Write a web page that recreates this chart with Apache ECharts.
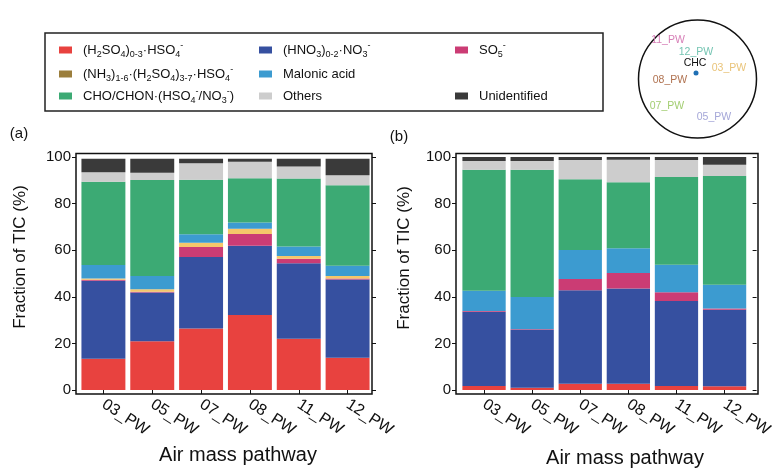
<!DOCTYPE html>
<html>
<head>
<meta charset="utf-8">
<script src="https://cdn.jsdelivr.net/npm/echarts@6/dist/echarts.min.js"></script>
<style>
  html, body { margin: 0; padding: 0; background: #fff; }
  #main { width: 775px; height: 468px; }
</style>
</head>
<body>
<div id="main"></div>
<script>
// air mass pathways
const pathways = ['03_PW', '05_PW', '07_PW', '08_PW', '11_PW', '12_PW'];
const yTicks = [0, 20, 40, 60, 80, 100];

// panel (a) fractions of TIC (%)
const a_h2so4 = [13.4, 20.9, 26.4, 32.2, 22.0, 13.8];
const a_hno3 = [33.5, 20.9, 30.7, 29.7, 32.4, 33.6];
const a_so5 = [0.4, 0.4, 4.3, 5.0, 1.9, 0.5];
const a_nh3 = [0.6, 1.0, 1.8, 2.3, 1.2, 1.0];
const a_malonic = [5.8, 5.7, 3.6, 2.7, 4.1, 4.4];
const a_cho = [35.7, 41.2, 23.4, 19.0, 29.2, 34.6];
const a_others = [4.1, 3.1, 7.1, 7.1, 5.1, 4.3];
const a_unid = [5.7, 6.1, 2.0, 1.3, 3.4, 7.1];

// panel (b) fractions of TIC (%)
const b_h2so4 = [1.7, 1.0, 2.7, 2.7, 1.7, 1.6];
const b_hno3 = [31.9, 24.8, 40.1, 40.9, 36.5, 32.8];
const b_so5 = [0.3, 0.3, 4.8, 6.6, 3.8, 0.6];
const b_nh3 = [0, 0, 0, 0, 0, 0];
const b_malonic = [8.7, 13.8, 12.5, 10.6, 11.8, 10.2];
const b_cho = [51.9, 54.6, 30.3, 28.4, 37.6, 46.6];
const b_others = [3.8, 3.8, 8.3, 9.6, 7.3, 4.9];
const b_unid = [1.7, 1.7, 1.3, 1.2, 1.3, 3.3];

const keys = ['h2so4', 'hno3', 'so5', 'nh3', 'malonic', 'cho', 'others', 'unid'];
const colors = {
    h2so4: '#E8423F', hno3: '#3650A0', so5: '#CB3C74', nh3: '#F5C76A',
    malonic: '#3C9BD0', cho: '#3CAA74', others: '#CDCDCD', unid: '#3A3A3A'
};
const labels = {
    h2so4: '(H{s|2}SO{s|4}){s|0-3}·HSO{s|4}{p|-}',
    hno3: '(HNO{s|3}){s|0-2}·NO{s|3}{p|-}',
    so5: 'SO{s|5}{p|-}',
    nh3: '(NH{s|3}){s|1-6}·(H{s|2}SO{s|4}){s|3-7}·HSO{s|4}{p|-}',
    malonic: 'Malonic acid',
    cho: 'CHO/CHON·(HSO{s|4}{p|-}/NO{s|3}{p|-})',
    others: 'Others',
    unid: 'Unidentified'
};
const panelA = { h2so4: a_h2so4, hno3: a_hno3, so5: a_so5, nh3: a_nh3, malonic: a_malonic, cho: a_cho, others: a_others, unid: a_unid };
const panelB = { h2so4: b_h2so4, hno3: b_hno3, so5: b_so5, nh3: b_nh3, malonic: b_malonic, cho: b_cho, others: b_others, unid: b_unid };

const font = '"Liberation Sans", Arial, sans-serif';

// legend slots: [key, iconLeft, rowCenter]
const legendSlots = [
    ['h2so4', 59, 50], ['hno3', 259, 50], ['so5', 455, 50],
    ['nh3', 59, 74], ['malonic', 259, 74],
    ['cho', 59, 96], ['others', 259, 96], ['unid', 455, 96]
];

var chartDom = document.getElementById('main');
var myChart = echarts.init(chartDom);

const makeSeries = (panel, xi, yi, stack) => keys.map(k => ({
    name: k,
    type: 'bar',
    stack: stack,
    xAxisIndex: xi,
    yAxisIndex: yi,
    barWidth: '90%',
    itemStyle: { color: colors[k] },
    emphasis: { disabled: true },
    data: panel[k]
}));

const xAxisOf = (gi) => ({
    gridIndex: gi,
    type: 'category',
    data: pathways,
    offset: 4,
    axisLine: { show: false },
    axisTick: { show: true, alignWithLabel: true, length: 4, lineStyle: { color: '#111' } },
    axisLabel: { rotate: -33, margin: 9, fontSize: 16, color: '#111', fontFamily: font }
});
const yAxisOf = (gi, pos, off, showLabel) => ({
    gridIndex: gi,
    type: 'value',
    position: pos,
    offset: off,
    min: yTicks[0],
    max: yTicks[yTicks.length - 1],
    interval: 20,
    axisLine: { show: false },
    axisTick: { show: true, length: 4, lineStyle: { color: '#111' } },
    axisLabel: { show: showLabel, margin: 5, fontSize: 15, color: '#111', fontFamily: font },
    splitLine: { show: false }
});

const txt = (text, x, y, size, color, extra) => Object.assign({
    type: 'text', x: x, y: y, z: 10,
    style: { text: text, fontSize: size, fontFamily: font, fill: color, align: 'center', verticalAlign: 'middle', textAlign: 'center', textVerticalAlign: 'middle' }
}, extra || {});

var option = {
    animation: false,
    legend: legendSlots.map(s => ({
        data: [s[0] === 'nh3' ? { name: s[0], itemStyle: { color: '#9B7E3C' } } : s[0]],
        left: s[1],
        top: s[2] - 9,
        padding: 0,
        selectedMode: false,
        icon: 'rect',
        itemWidth: 13,
        itemHeight: 7,
        formatter: name => labels[name],
        textStyle: {
            fontSize: 13, lineHeight: 18, fontFamily: font, color: '#111', padding: [0, 0, 0, 6],
            rich: {
                s: { fontSize: 9, lineHeight: 10, verticalAlign: 'bottom', fontFamily: font, color: '#111' },
                p: { fontSize: 9, lineHeight: 10, verticalAlign: 'top', fontFamily: font, color: '#111' }
            }
        }
    })),
    grid: [
        { left: 79, width: 293, top: 157, bottom: 78 },
        { left: 460, width: 294, top: 157, bottom: 78 }
    ],
    xAxis: [xAxisOf(0), xAxisOf(1)],
    yAxis: [
        yAxisOf(0, 'left', 3, true), yAxisOf(0, 'right', 0, false),
        yAxisOf(1, 'left', 4, true), yAxisOf(1, 'right', 4, false)
    ],
    series: makeSeries(panelA, 0, 0, 'a').concat(makeSeries(panelB, 1, 2, 'b')),
    graphic: [
        // legend box
        { type: 'rect', z: 10, shape: { x: 45, y: 33, width: 558, height: 78 }, style: { fill: 'none', stroke: '#222', lineWidth: 1.5 } },
        // plot frames
        { type: 'rect', z: 10, shape: { x: 76, y: 153.5, width: 296, height: 240.5 }, style: { fill: 'none', stroke: '#111', lineWidth: 1.5 } },
        { type: 'rect', z: 10, shape: { x: 456, y: 153.5, width: 302, height: 240.5 }, style: { fill: 'none', stroke: '#111', lineWidth: 1.5 } },
        // panel letters
        txt('(a)', 19, 134, 15, '#111'),
        txt('(b)', 399, 137, 15, '#111'),
        // axis titles
        txt('Fraction of TIC (%)', 20, 257, 17, '#111', { rotation: Math.PI / 2 }),
        txt('Fraction of TIC (%)', 404, 258, 17, '#111', { rotation: Math.PI / 2 }),
        txt('Air mass pathway', 238, 455, 20, '#111'),
        txt('Air mass pathway', 625, 458, 20, '#111'),
        // pathway map inset
        { type: 'circle', z: 10, shape: { cx: 697.5, cy: 79, r: 59 }, style: { fill: 'none', stroke: '#111', lineWidth: 1.5 } },
        txt('11_PW', 668, 40, 10.5, '#D77FB7'),
        txt('12_PW', 696, 52, 10.5, '#76C5B3'),
        txt('CHC', 695, 63, 10.5, '#111'),
        { type: 'circle', z: 10, shape: { cx: 696, cy: 73, r: 2.5 }, style: { fill: '#1F6FB4' } },
        txt('03_PW', 729, 68, 10.5, '#E9C47A'),
        txt('08_PW', 670, 80, 10.5, '#B07250'),
        txt('07_PW', 667, 106, 10.5, '#A3CE72'),
        txt('05_PW', 714, 117, 10.5, '#A5A7D8')
    ]
};

option && myChart.setOption(option);
</script>
</body>
</html>
